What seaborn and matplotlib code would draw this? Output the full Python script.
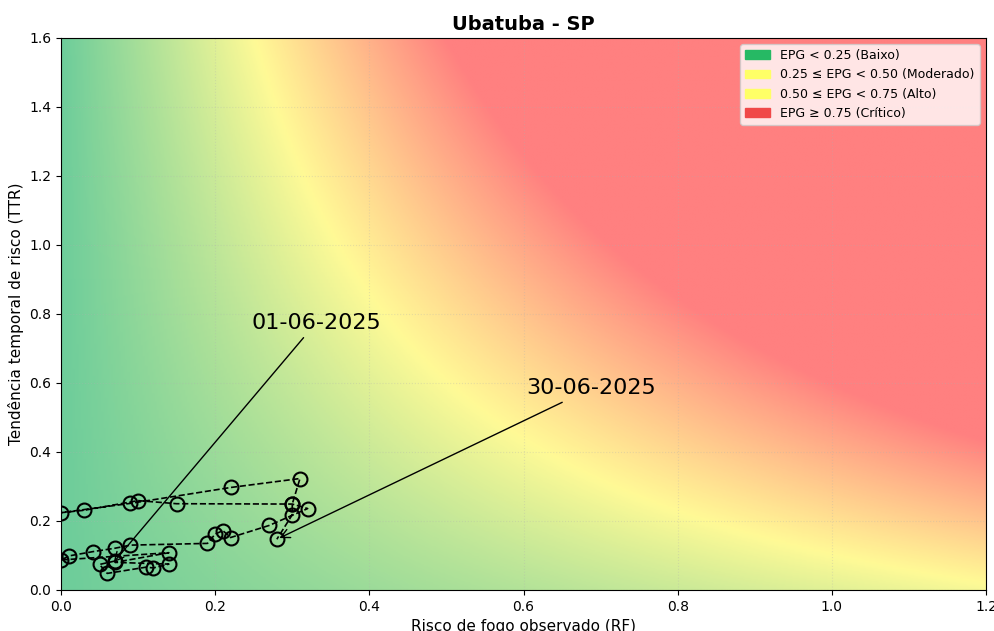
import numpy as np
import pandas as pd
import seaborn as sns
import matplotlib.pyplot as plt
from matplotlib.colors import LinearSegmentedColormap
from matplotlib.patches import Patch

# daily trajectory (01-06-2025 .. 30-06-2025)
rf = [0.07, 0.05, 0.06, 0.11, 0.12, 0.14, 0.07, 0.14, 0.00, 0.011,
      0.041, 0.07, 0.09, 0.19, 0.20, 0.21, 0.22, 0.27, 0.32, 0.30,
      0.15, 0.10, 0.03, 0.00, 0.09, 0.22, 0.31, 0.30, 0.30, 0.28]
ttr = [0.084, 0.074, 0.048, 0.066, 0.064, 0.075, 0.080, 0.108, 0.087, 0.099,
       0.111, 0.121, 0.130, 0.135, 0.162, 0.172, 0.152, 0.187, 0.236, 0.249,
       0.250, 0.259, 0.231, 0.224, 0.251, 0.297, 0.323, 0.249, 0.218, 0.147]
dates = pd.date_range("2025-06-01", "2025-06-30").strftime("%d-%m-%Y")

legend_labels = ["EPG < 0.25 (Baixo)", "0.25 \u2264 EPG < 0.50 (Moderado)",
                 "0.50 \u2264 EPG < 0.75 (Alto)", "EPG \u2265 0.75 (Cr\u00edtico)"]
legend_colors = ["#26b964", "#ffff66", "#ffff66", "#f04848"]

df = pd.DataFrame({"RF": rf, "TTR": ttr, "data": dates})

fig = plt.figure(figsize=(9.95, 6.31), dpi=100)
ax = fig.add_axes([0.0613, 0.065, 0.9297, 0.875])

# EPG background field
g_rf, g_ttr = np.meshgrid(np.linspace(0, 1.2, 400), np.linspace(0, 1.6, 400))
epg = np.clip(g_rf * (g_ttr + 0.4), 0, 1)
cmap = LinearSegmentedColormap.from_list("epg", ["#0dac58", "#fff750", "#ff2b2b"])
ax.imshow(epg, extent=[0, 1.2, 0, 1.6], origin="lower", cmap=cmap,
          vmin=0, vmax=1, alpha=0.6, aspect="auto", interpolation="bilinear")

sns.lineplot(data=df, x="RF", y="TTR", sort=False, estimator=None, ax=ax,
             color="black", linestyle="--", linewidth=1.2, marker="o",
             markersize=10, markerfacecolor="none", markeredgecolor="black",
             markeredgewidth=1.5)

ax.annotate(df["data"].iloc[0], xy=(df["RF"].iloc[0] - 0.004, df["TTR"].iloc[0] - 0.01),
            xytext=(0.331, 0.757), fontsize=16, ha="center",
            arrowprops=dict(arrowstyle="->", color="black", lw=1))
ax.annotate(df["data"].iloc[-1], xy=(df["RF"].iloc[-1], df["TTR"].iloc[-1]),
            xytext=(0.688, 0.567), fontsize=16, ha="center",
            arrowprops=dict(arrowstyle="->", color="black", lw=1))

ax.set_xlim(0, 1.2)
ax.set_ylim(0, 1.6)
ax.set_xticks(np.arange(0, 1.21, 0.2))
ax.set_yticks(np.arange(0, 1.61, 0.2))
ax.grid(True, linestyle=":", alpha=0.3)
ax.set_title("Ubatuba - SP", fontsize=14, fontweight="bold")
ax.set_xlabel("Risco de fogo observado (RF)", fontsize=11)
ax.set_ylabel("Tend\u00eancia temporal de risco (TTR)", fontsize=11)

handles = [Patch(color=c, label=l) for c, l in zip(legend_colors, legend_labels)]
ax.legend(handles=handles, loc="upper right", fontsize=9)

fig.savefig("out.png", dpi=100)
